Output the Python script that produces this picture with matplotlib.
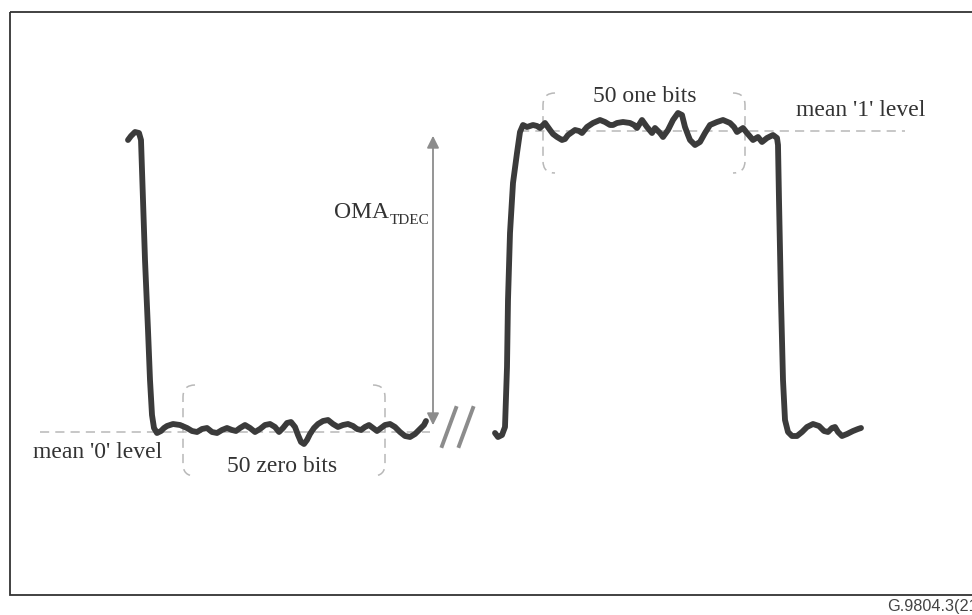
import matplotlib.pyplot as plt
from matplotlib.path import Path
from matplotlib.patches import PathPatch, Rectangle

# coordinates in pixel units of the drawing (x right, y down)
zero_x = [128, 131, 135, 139, 141, 143, 145, 148, 150, 152, 154, 157, 161, 164, 167, 173,
          180, 187, 192, 197, 202, 207, 212, 217, 222, 227, 232, 236, 240, 245, 250, 255,
          260, 265, 270, 275, 279, 283, 287, 291, 295, 298, 301, 304, 307, 310, 314, 318,
          323, 328, 333, 338, 343, 348, 353, 357, 361, 365, 369, 373, 377, 381, 385, 390,
          395, 400, 405, 410, 415, 420, 424, 426]
zero_y = [140, 136, 132, 133, 140, 200, 260, 330, 380, 415, 428, 433, 431, 428, 426, 424,
          425, 428, 431, 432, 429, 428, 432, 433, 430, 428, 430, 431, 428, 425, 428, 432,
          429, 425, 424, 427, 432, 428, 423, 422, 427, 435, 442, 444, 440, 434, 428, 424,
          421, 420, 424, 427, 425, 424, 426, 429, 430, 427, 425, 428, 431, 428, 425, 424,
          427, 432, 436, 437, 434, 429, 425, 421]

one_x = [495, 498, 502, 505, 507, 508, 510, 513, 517, 520, 523, 527, 533, 537, 540, 545,
         550, 553, 557, 562, 565, 568, 575, 579, 582, 587, 593, 600, 605, 610, 613, 617,
         623, 630, 634, 637, 642, 647, 652, 655, 660, 663, 668, 673, 678, 682, 685, 688,
         690, 695, 700, 705, 710, 717, 723, 730, 734, 737, 743, 747, 753, 758, 762, 767,
         773, 777, 778, 779, 781, 783, 785, 788, 792, 797, 802, 807, 813, 819, 824, 828,
         832, 835, 838, 842, 847, 853, 858, 861]
one_y = [433, 437, 435, 427, 367, 300, 233, 183, 153, 132, 125, 127, 125, 126, 128, 123,
         130, 134, 137, 140, 139, 135, 130, 131, 133, 127, 123, 120, 122, 125, 125, 123,
         122, 123, 125, 128, 120, 127, 133, 128, 133, 137, 130, 120, 113, 115, 127, 135,
         140, 145, 142, 133, 125, 122, 120, 123, 127, 132, 128, 133, 140, 137, 142, 138,
         135, 138, 145, 200, 300, 380, 420, 432, 436, 436, 432, 427, 424, 426, 431, 432,
         428, 427, 432, 436, 434, 431, 429, 428]

mean0_x = [40, 430]
mean0_y = [432, 432]
mean1_x = [520, 905]
mean1_y = [131, 131]

arrow_x = 433
arrow_top = 133
arrow_bottom = 428

fig = plt.figure(figsize=(9.72, 6.15), dpi=100)
ax = fig.add_axes([0, 0, 1, 1])
ax.set_xlim(0, 972)
ax.set_ylim(615, 0)
ax.axis("off")

serif = ["Liberation Serif", "DejaVu Serif"]
trace_col = "#3b3b3b"
dash_col = "#b8b8b8"
dash = (0, (6, 4))

# frame
ax.add_patch(Rectangle((10, 12), 1000, 583, fill=False, ec="#333333", lw=1.3))

# mean levels
ax.plot(mean0_x, mean0_y, ls=dash, color=dash_col, lw=1.1)
ax.plot(mean1_x, mean1_y, ls=dash, color=dash_col, lw=1.1)

# traces
ax.plot(zero_x, zero_y, color=trace_col, lw=4.2, solid_joinstyle="round", solid_capstyle="round")
ax.plot(one_x, one_y, color=trace_col, lw=4.2, solid_joinstyle="round", solid_capstyle="round")


def bracket(x0, x1, y0, y1, r=12):
    # left and right rounded dashed brackets
    for side in (1, -1):
        xe = x0 if side == 1 else x1
        verts = [(xe + side * r, y0), (xe, y0), (xe, y0 + r), (xe, y1 - r), (xe, y1), (xe + side * r, y1)]
        codes = [Path.MOVETO, Path.CURVE3, Path.CURVE3, Path.LINETO, Path.CURVE3, Path.CURVE3]
        ax.add_patch(PathPatch(Path(verts, codes), fill=False, ec=dash_col, lw=1.1, ls=dash))


bracket(183, 385, 385, 476)
bracket(543, 745, 93, 173)

# OMA arrow
ax.annotate("", xy=(arrow_x, arrow_top), xytext=(arrow_x, arrow_bottom),
            arrowprops=dict(arrowstyle="<|-|>", color="#8c8c8c", lw=1.3, mutation_scale=18))

# break marks
ax.plot([442, 456], [446, 408], color="#8c8c8c", lw=2.8)
ax.plot([459, 473], [446, 408], color="#8c8c8c", lw=2.8)

txt = "#333333"
ax.text(334, 213, "OMA", fontsize=17, family=serif, color=txt, va="center", ha="left")
ax.text(390, 220, "TDEC", fontsize=11, family=serif, color=txt, va="center", ha="left")
ax.text(98, 453, "mean '0' level", fontsize=17, family=serif, color=txt, va="center", ha="center")
ax.text(282, 467, "50 zero bits", fontsize=17, family=serif, color=txt, va="center", ha="center")
ax.text(645, 96, "50 one bits", fontsize=17, family=serif, color=txt, va="center", ha="center")
ax.text(861, 111, "mean '1' level", fontsize=17, family=serif, color=txt, va="center", ha="center")
ax.text(887, 607, "G.9804.3(21)", fontsize=11.7, family=["Liberation Sans", "DejaVu Sans"],
        color="#444444", va="center", ha="left")

fig.savefig("out.png", dpi=100)
